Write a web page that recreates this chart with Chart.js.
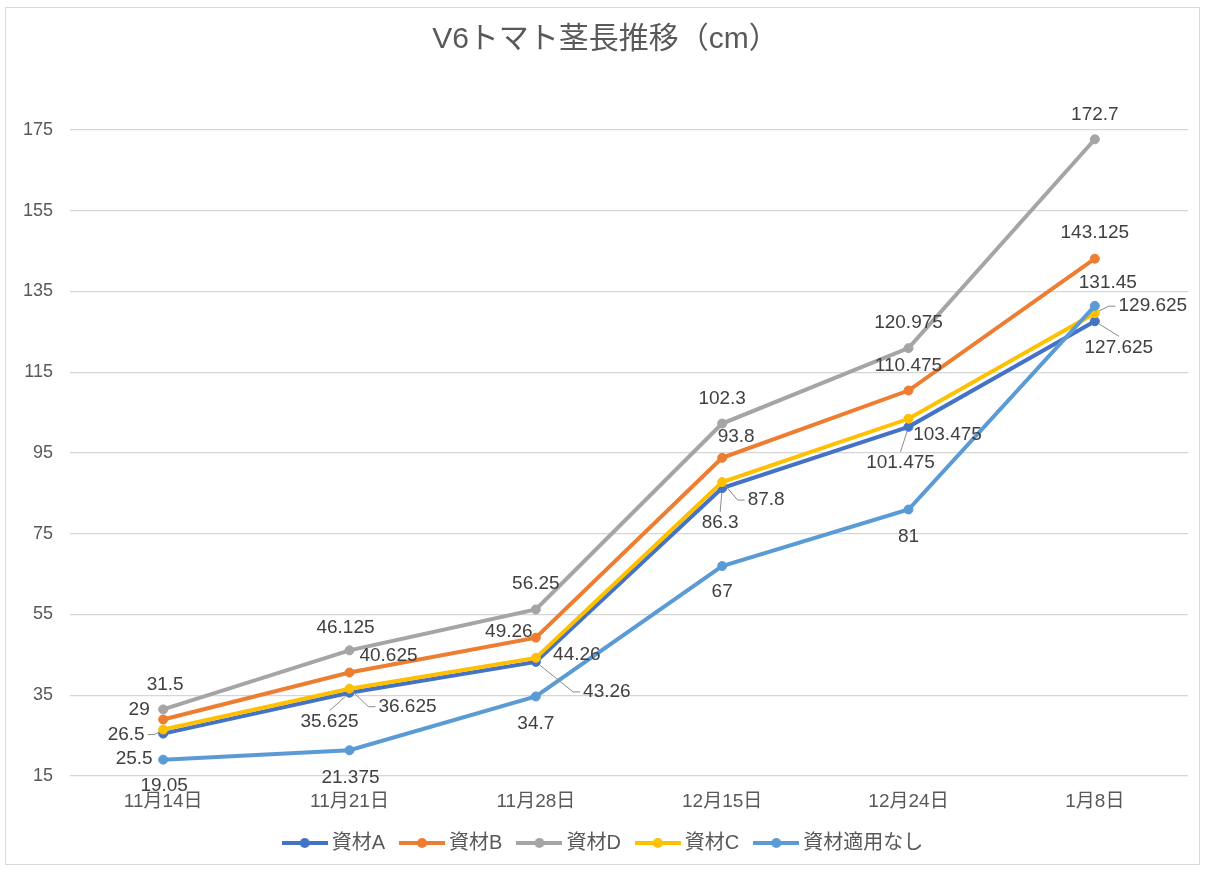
<!DOCTYPE html>
<html lang="ja">
<head>
<meta charset="utf-8">
<title>V6トマト茎長推移</title>
<script src="https://cdn.jsdelivr.net/npm/chart.js@4.4.1/dist/chart.umd.min.js"></script>
<style>
  html, body { margin: 0; padding: 0; background: #fff; }
</style>
</head>
<body>
<canvas id="chart" width="1205" height="870"></canvas>
<script>
const dates = ['11月14日', '11月21日', '11月28日', '12月15日', '12月24日', '1月8日'];

const seriesNames = ['資材A', '資材B', '資材D', '資材C', '資材適用なし'];
const valuesA = [25.5, 35.625, 43.26, 86.3, 101.475, 127.625];
const valuesB = [29, 40.625, 49.26, 93.8, 110.475, 143.125];
const valuesD = [31.5, 46.125, 56.25, 102.3, 120.975, 172.7];
const valuesC = [26.5, 36.625, 44.26, 87.8, 103.475, 129.625];
const valuesNone = [19.05, 21.375, 34.7, 67, 81, 131.45];

const yTicks = [15, 35, 55, 75, 95, 115, 135, 155, 175];

const FONT = '"Liberation Sans", "Noto Sans CJK JP", sans-serif';
const colors = ['#4472C4', '#ED7D31', '#A5A5A5', '#FFC000', '#5B9BD5'];

// where each value label sits relative to its point: [dx, dy, leader line]
const labelPlacement = [
  [[-29, 25], [-20, 29, true], [71, 30, true], [-2, 35, true], [-8, 36, true], [24, 26, true]],
  [[-24, -10], [39, -17], [-27, -6], [14, -21], [0, -25], [0, -26]],
  [[2, -25], [-4, -23], [0, -26], [0, -25], [0, -25], [0, -25]],
  [[-37, 5, true], [58, 18, true], [41, -3], [44, 18, true], [39, 16], [58, -7, true]],
  [[1, 26], [1, 28], [0, 27], [0, 26], [0, 27], [13, -23]]
];

function legendMarker(color) {
  const c = document.createElement('canvas');
  c.width = 46;
  c.height = 14;
  const g = c.getContext('2d');
  g.strokeStyle = color;
  g.lineWidth = 4;
  g.beginPath();
  g.moveTo(0, 7);
  g.lineTo(46, 7);
  g.stroke();
  g.fillStyle = color;
  g.beginPath();
  g.arc(23, 7, 5, 0, Math.PI * 2);
  g.fill();
  return c;
}

const frame = {
  id: 'frame',
  beforeDraw(chart) {
    const { ctx, width, height } = chart;
    ctx.save();
    ctx.fillStyle = '#fff';
    ctx.fillRect(0, 0, width, height);
    ctx.strokeStyle = '#d9d9d9';
    ctx.lineWidth = 1;
    ctx.strokeRect(5.5, 7.5, width - 11, height - 13);
    ctx.restore();
  }
};

const valueLabels = {
  id: 'valueLabels',
  afterDatasetsDraw(chart) {
    const ctx = chart.ctx;
    ctx.save();
    ctx.font = '19px ' + FONT;
    ctx.textAlign = 'center';
    ctx.textBaseline = 'middle';
    chart.data.datasets.forEach((ds, i) => {
      const meta = chart.getDatasetMeta(i);
      meta.data.forEach((pt, j) => {
        const [dx, dy, leader] = labelPlacement[i][j];
        const text = String(ds.data[j]);
        const lx = pt.x + dx;
        const ly = pt.y + dy;
        if (leader) {
          const w = ctx.measureText(text).width;
          let ex, ey, tx;
          if (Math.abs(dx) > w / 2) {
            const side = dx > 0 ? -1 : 1;
            ex = lx + side * (w / 2 + 3);
            ey = ly;
            tx = ex + side * 7;
          } else {
            ex = lx;
            ey = ly + (dy > 0 ? -11 : 11);
            tx = ex;
          }
          const ang = Math.atan2(ey - pt.y, tx - pt.x);
          ctx.strokeStyle = '#8c8c8c';
          ctx.lineWidth = 1;
          ctx.beginPath();
          ctx.moveTo(pt.x + Math.cos(ang) * 5, pt.y + Math.sin(ang) * 5);
          ctx.lineTo(tx, ey);
          ctx.lineTo(ex, ey);
          ctx.stroke();
        }
        ctx.fillStyle = '#404040';
        ctx.fillText(text, lx, ly);
      });
    });
    ctx.restore();
  }
};

const allValues = [valuesA, valuesB, valuesD, valuesC, valuesNone];

const datasets = seriesNames.map((name, i) => ({
  label: name,
  data: allValues[i],
  borderColor: colors[i],
  backgroundColor: colors[i],
  pointBackgroundColor: colors[i],
  pointBorderColor: colors[i],
  borderWidth: 4,
  pointRadius: 4.5,
  pointBorderWidth: 1,
  tension: 0,
  // later series sit on top
  order: seriesNames.length - i
}));

new Chart(document.getElementById('chart'), {
  type: 'line',
  data: { labels: dates, datasets },
  options: {
    responsive: false,
    animation: false,
    layout: { padding: { top: 10, left: 23, right: 17, bottom: 7 } },
    scales: {
      x: {
        offset: true,
        grid: { display: false, drawTicks: false },
        border: { display: false },
        ticks: { color: '#595959', padding: 15, font: { size: 19, family: FONT, lineHeight: 1.16 }, maxRotation: 0 },
        afterFit: scale => { scale.height = 37; }
      },
      y: {
        min: yTicks[0],
        max: yTicks[yTicks.length - 1],
        afterBuildTicks: scale => { scale.ticks = yTicks.map(v => ({ value: v })); },
        afterFit: scale => { scale.width = 47; },
        grid: { color: '#d6d6d6', lineWidth: 1.2, drawTicks: false },
        border: { display: false },
        ticks: { color: '#595959', padding: 17, font: { size: 18, family: FONT } }
      }
    },
    plugins: {
      title: {
        display: true,
        text: 'V6トマト茎長推移（cm）',
        color: '#595959',
        font: { size: 30, weight: 'normal', family: FONT },
        padding: { top: 12, bottom: 72 }
      },
      legend: {
        position: 'bottom',
        labels: {
          usePointStyle: true,
          pointStyleWidth: 34,
          padding: 20,
          color: '#595959',
          font: { size: 20, family: FONT },
          generateLabels: chart => chart.data.datasets.map((ds, i) => ({
            text: ds.label,
            datasetIndex: i,
            pointStyle: legendMarker(ds.borderColor),
            fillStyle: ds.borderColor,
            strokeStyle: ds.borderColor,
            fontColor: '#595959',
            lineWidth: 0,
            hidden: false
          }))
        }
      },
      tooltip: { enabled: false }
    }
  },
  plugins: [frame, valueLabels]
});
</script>
</body>
</html>
